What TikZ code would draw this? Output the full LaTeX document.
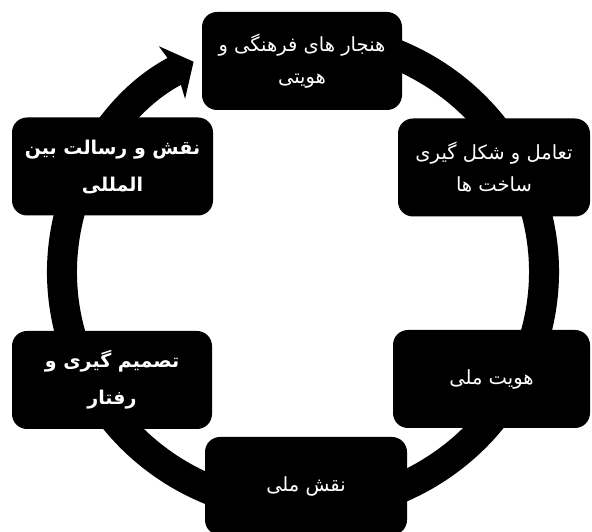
\documentclass[tikz,border=0pt]{standalone}
\usepackage{fontspec}
\usetikzlibrary{arrows.meta}
\TeXXeTstate=1
\newfontfamily\farsi[Script=Arabic]{DejaVu Sans}
\begin{document}
\begin{tikzpicture}[x=1pt,y=1pt,
  box/.style={fill=black, rounded corners=15pt, text=white, align=center,
    minimum height=98pt, inner sep=0pt, font=\farsi\fontsize{19.5}{32}\selectfont},
  boldbox/.style={box, font=\farsi\bfseries\fontsize{19}{37}\selectfont},
  ring/.style={line width=30pt, -{Stealth[length=24pt,width=58pt,inset=5pt]}}]
\clip (0,0) rectangle (592,532);
\coordinate (c) at (303,260);
\draw[ring] (c) ++(82:241 and 236) arc[start angle=82, end angle=-243, x radius=241, y radius=236];
\node[box, minimum width=200pt] (n1) at (302,471) {\beginR هنجار های فرهنگی و\endR\\\beginR هویتی\endR};
\node[box, minimum width=192pt] (n2) at (494,364.5) {\beginR تعامل و شکل گیری\endR\\\beginR ساخت ها\endR};
\node[box, minimum width=197pt] (n3) at (491.5,153) {\beginR هویت ملی\endR};
\node[box, minimum width=202pt] (n4) at (306,46) {\beginR نقش ملی\endR};
\node[boldbox, minimum width=200pt] (n5) at (112,152) {\beginR تصمیم گیری و\endR\\\beginR رفتار\endR};
\node[boldbox, minimum width=201pt] (n6) at (112.5,365.5) {\beginR نقش و رسالت بین\endR\\\beginR المللی\endR};
\end{tikzpicture}
\end{document}
